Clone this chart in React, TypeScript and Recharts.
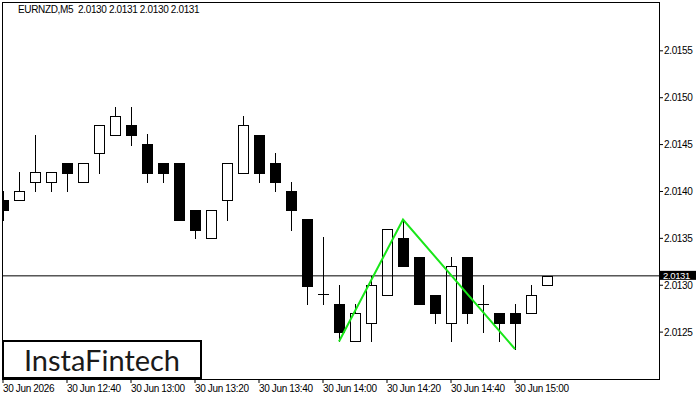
import { ComposedChart, Bar, Line, XAxis, YAxis, ReferenceLine } from "recharts";

const SYMBOL = "EURNZD,M5";

// M5 candles, 30 Jun 12:20 .. 15:10
const opens = [
  2.01391, 2.01391, 2.0141, 2.0141, 2.0143, 2.0141, 2.01441, 2.0146, 2.01471, 2.01451,
  2.0143, 2.0143, 2.0138, 2.0135, 2.01391, 2.0142, 2.0146, 2.0143, 2.014, 2.01371,
  2.01291, 2.0128, 2.0124, 2.0126, 2.0129, 2.0135, 2.0133, 2.0129, 2.0126, 2.0133,
  2.0128, 2.0127, 2.0127, 2.0127, 2.013,
];
const highs = [
  2.01401, 2.01421, 2.0146, 2.01421, 2.0143, 2.0143, 2.01471, 2.0149, 2.0149, 2.01461,
  2.0143, 2.0143, 2.0138, 2.0138, 2.0143, 2.01481, 2.0146, 2.01441, 2.0141, 2.01371,
  2.01351, 2.013, 2.0128, 2.0131, 2.0136, 2.0137, 2.0133, 2.0129, 2.0133, 2.0133,
  2.013, 2.0127, 2.0128, 2.013, 2.0131,
];
const lows = [
  2.0137, 2.01391, 2.014, 2.014, 2.014, 2.0141, 2.0142, 2.0146, 2.0145, 2.0141,
  2.0141, 2.0137, 2.0135, 2.0135, 2.0137, 2.0142, 2.0141, 2.014, 2.01359, 2.0128,
  2.0128, 2.0124, 2.0124, 2.0124, 2.0129, 2.0132, 2.0128, 2.0126, 2.0124, 2.0126,
  2.0125, 2.0124, 2.01232, 2.0127, 2.013,
];
const closes = [
  2.0138, 2.014, 2.01421, 2.01421, 2.0142, 2.0143, 2.01471, 2.01481, 2.0146, 2.0142,
  2.0142, 2.0137, 2.01359, 2.0138, 2.0143, 2.01471, 2.0142, 2.0141, 2.0138, 2.01299,
  2.01291, 2.0125, 2.0127, 2.013, 2.0136, 2.0132, 2.0128, 2.0127, 2.0132, 2.0127,
  2.0128, 2.0126, 2.0126, 2.0129, 2.0131,
];

const timeLabels = [
  "30 Jun 2026", "30 Jun 12:40", "30 Jun 13:00", "30 Jun 13:20", "30 Jun 13:40",
  "30 Jun 14:00", "30 Jun 14:20", "30 Jun 14:40", "30 Jun 15:00",
];
const priceTicks = [2.0125, 2.013, 2.0135, 2.014, 2.0145, 2.015, 2.0155];

// double top / bottom pattern lines
const patternIdx = [21, 25, 32];
const patternPrice = [2.0124, 2.0137, 2.01232];

const candles = opens.map((open, i) => ({
  idx: i,
  open,
  high: highs[i],
  low: lows[i],
  close: closes[i],
  range: [lows[i], highs[i]],
}));
const pattern = patternIdx.map((idx, i) => ({ idx, price: patternPrice[i] }));
const timeTicks = timeLabels.map((_, i) => i * 4);
const last = candles[candles.length - 1];

const FONT = "'Liberation Sans', Arial, sans-serif";
const SPACING = -0.35;
const PLOT_LEFT = 3;

const Candle = (props: any) => {
  const { x, y, width, height, payload } = props;
  const { open, close, high, low } = payload;
  const cx = Math.round(x + width / 2);
  const k = height / (high - low);
  const yOpen = y + (high - open) * k;
  const yClose = y + (high - close) * k;
  const left = Math.max(cx - 5, PLOT_LEFT);
  const right = cx + 6;
  const top = Math.round(Math.min(yOpen, yClose));
  const bot = Math.round(Math.max(yOpen, yClose));
  const wTop = Math.round(y);
  const wBot = Math.round(y + height);

  let body;
  if (top === bot) {
    body = <rect x={left} y={top} width={right - left} height={1} fill="#000" />;
  } else if (close > open) {
    body = (
      <rect x={left + 0.5} y={top + 0.5} width={right - left - 1} height={bot - top}
        fill="#fff" stroke="#000" strokeWidth={1} />
    );
  } else {
    body = <rect x={left} y={top} width={right - left} height={bot - top + 1} fill="#000" />;
  }

  return (
    <g shapeRendering="crispEdges">
      <rect x={cx} y={wTop} width={1} height={wBot - wTop + 1} fill="#000" />
      {body}
    </g>
  );
};

const TimeTick = (props: any) => {
  const { x, y, payload } = props;
  return (
    <text x={x} y={y} dy="0.71em" textAnchor="start" fontSize={10} fontFamily={FONT}
      letterSpacing={SPACING} fill="#000">
      {timeLabels[payload.value / 4]}
    </text>
  );
};

const PriceTick = (props: any) => {
  const { x, y, payload } = props;
  return (
    <text x={x} y={y} dy="0.355em" textAnchor="start" fontSize={10} fontFamily={FONT}
      letterSpacing={SPACING} fill="#000">
      {payload.value.toFixed(4)}
    </text>
  );
};

const PriceTag = (props: any) => {
  const { x, y, width } = props.viewBox;
  return (
    <g>
      <rect x={x + width + 1} y={y - 5} width={36} height={9} fill="#000" />
      <text x={x + width + 4} y={y + 3} fontSize={9.5} fontFamily={FONT}
        letterSpacing={SPACING} fill="#fff">
        {last.close.toFixed(4)}
      </text>
    </g>
  );
};

export default function App() {
  return (
    <div style={{ position: "absolute", left: 0, top: 0, width: 700, height: 400, background: "#fff" }}>
      <ComposedChart width={700} height={400} data={candles} margin={{ top: 3, right: 3, bottom: 3, left: 3 }}>
        <XAxis
          dataKey="idx"
          type="number"
          domain={[0, 41]}
          ticks={timeTicks}
          interval={0}
          tick={<TimeTick />}
          tickSize={4}
          tickLine={{ stroke: "#000" }}
          axisLine={false}
          height={18}
          allowDataOverflow
        />
        <YAxis
          orientation="right"
          type="number"
          domain={[2.012, 2.01601]}
          ticks={priceTicks}
          interval={0}
          tick={<PriceTick />}
          tickSize={4}
          tickMargin={1}
          tickLine={{ stroke: "#000" }}
          axisLine={false}
          width={38}
          allowDataOverflow
        />
        <ReferenceLine y={last.close} stroke="#000" strokeWidth={1} label={<PriceTag />} />
        <Bar dataKey="range" barSize={10} shape={<Candle />} isAnimationActive={false} />
        <Line
          data={pattern}
          dataKey="price"
          type="linear"
          stroke="#19e619"
          strokeWidth={2}
          dot={false}
          activeDot={false}
          isAnimationActive={false}
        />
      </ComposedChart>
      <div
        style={{
          position: "absolute", left: 2, top: 2, width: 658, height: 378,
          border: "1px solid #000", boxSizing: "border-box", pointerEvents: "none",
        }}
      />
      <div
        style={{
          position: "absolute", left: 18, top: 4, fontFamily: FONT, fontSize: 10,
          lineHeight: "12px", letterSpacing: SPACING, color: "#000", whiteSpace: "pre",
        }}
      >
        {`${SYMBOL}  ${last.open.toFixed(4)} ${last.high.toFixed(4)} ${last.low.toFixed(4)} ${last.close.toFixed(4)}`}
      </div>
      <div
        style={{
          position: "absolute", left: 2, top: 340, width: 200, height: 39,
          border: "2px solid #000", boxSizing: "border-box", background: "#fff",
          display: "flex", alignItems: "center", justifyContent: "center",
          fontFamily: "Lato, 'Open Sans', sans-serif", fontSize: 29, color: "#1a1a1a",
        }}
      >
        InstaFintech
      </div>
    </div>
  );
}
